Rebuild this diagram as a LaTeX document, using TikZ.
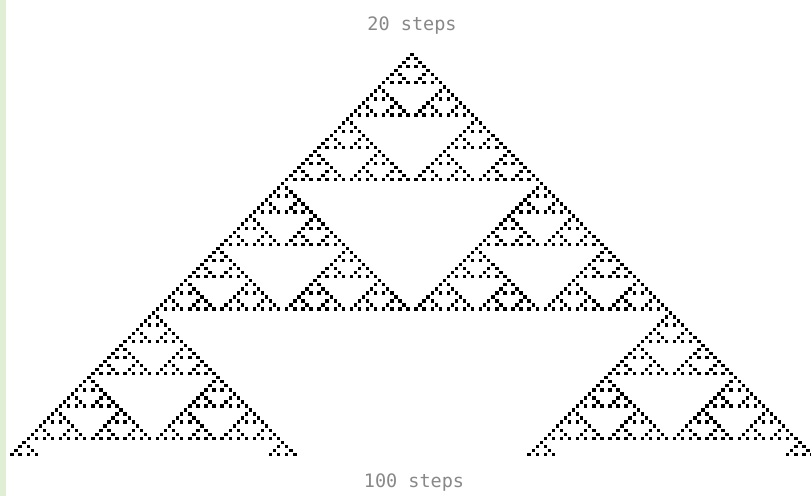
\documentclass[tikz,border=0pt]{standalone}
\usepackage{fontspec}
\setmonofont{DejaVu Sans Mono}
\usepackage{tikz}
\usetikzlibrary{positioning}

\definecolor{stripgreen}{RGB}{223,238,212}
\definecolor{labelgray}{RGB}{136,136,136}

\tikzset{
    cell/.style={fill=black},
    steplabel/.style={text=labelgray, font=\ttfamily\fontsize{18.5}{20}\selectfont, inner sep=0pt, anchor=base}
}

\begin{document}
\begin{tikzpicture}[x=1pt, y=-1pt]
    \useasboundingbox (0,0) rectangle (811,496);
    \fill[stripgreen] (0,0) rectangle (6,496);

    \coordinate (apex) at (412,54.5);
    \node[steplabel] (top) at (412,30.7) {20 steps};
    \node[steplabel] (bottom) at (414,487.7) {100 steps};

    % rule 90: cell (n,k) is set when C(n,k) is odd
    \foreach \n in {0,...,99}{
        \foreach \k in {0,...,\n}{
            \pgfmathtruncatemacro{\bad}{(mod(div(\k,1),2)>mod(div(\n,1),2))+(mod(div(\k,2),2)>mod(div(\n,2),2))+(mod(div(\k,4),2)>mod(div(\n,4),2))+(mod(div(\k,8),2)>mod(div(\n,8),2))+(mod(div(\k,16),2)>mod(div(\n,16),2))+(mod(div(\k,32),2)>mod(div(\n,32),2))+(mod(div(\k,64),2)>mod(div(\n,64),2))}
            \ifnum\bad=0
                \fill[cell] ([xshift={(2*\k-\n)*4.04-1.7}, yshift={-\n*4.04+1.7}]apex) rectangle ++(3.4,3.4);
            \fi
        }
    }
\end{tikzpicture}
\end{document}
